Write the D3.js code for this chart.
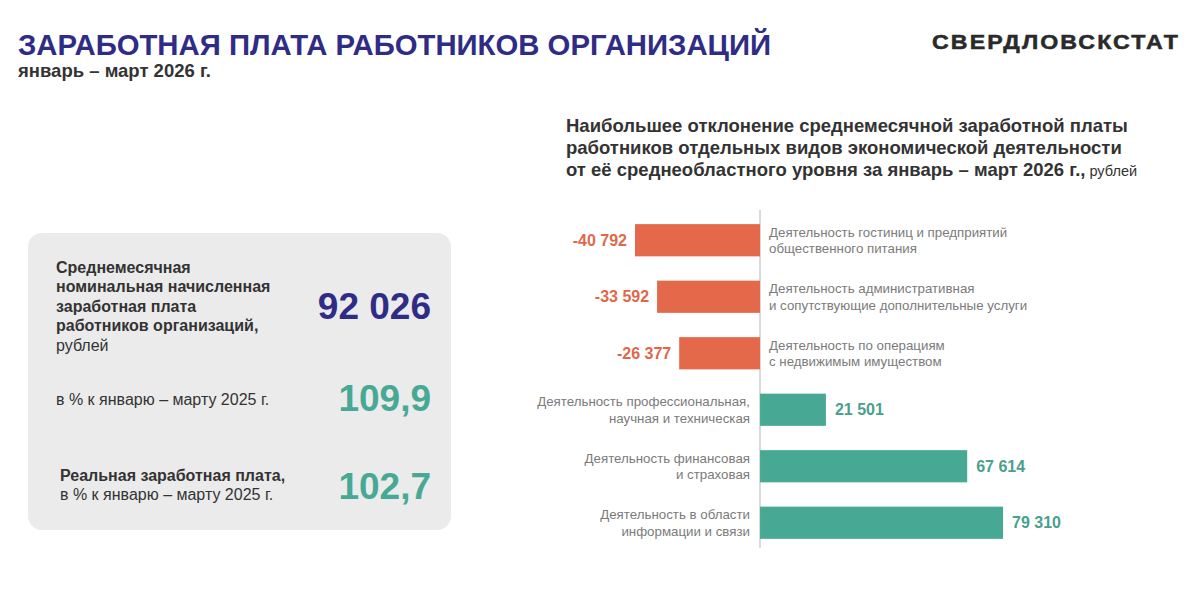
<!DOCTYPE html>
<html>
<head>
<meta charset="utf-8">
<script src="https://cdn.jsdelivr.net/npm/d3@7/dist/d3.min.js"></script>
<style>
  html, body { margin: 0; padding: 0; background: #fff; }
  svg text { font-family: "Liberation Sans", Arial, sans-serif; }
</style>
</head>
<body>
<div id="chart"></div>
<script>
// chart data
var categories = [
  "Деятельность гостиниц и предприятий\nобщественного питания",
  "Деятельность административная\nи сопутствующие дополнительные услуги",
  "Деятельность по операциям\nс недвижимым имуществом",
  "Деятельность профессиональная,\nнаучная и техническая",
  "Деятельность финансовая\nи страховая",
  "Деятельность в области\nинформации и связи"
];
var deviations = [-40792, -33592, -26377, 21501, 67614, 79310];

// summary panel
var kpiLabels = [
  ["Среднемесячная", "номинальная начисленная", "заработная плата", "работников организаций,"],
  [],
  ["Реальная заработная плата,"]
];
var kpiValues = [92026, 109.9, 102.7];

var W = 1196, H = 615;
var blue = '#2f2c86', green = '#47a994', orange = '#e4684a', dark = '#333333', grey = '#7b7b7b';

var ru = d3.formatLocale({decimal: ',', thousands: ' ', grouping: [3], currency: ['', ''], minus: '-'});
var fmtInt = ru.format(','), fmtPct = ru.format('.1f');

var svg = d3.select('#chart').append('svg')
    .attr('width', W)
    .attr('height', H);

// header
svg.append('text')
    .attr('x', 18).attr('y', 55)
    .attr('font-size', 29.3).attr('font-weight', 'bold')
    .attr('fill', blue)
    .text('ЗАРАБОТНАЯ ПЛАТА РАБОТНИКОВ ОРГАНИЗАЦИЙ');

svg.append('text')
    .attr('x', 18).attr('y', 77)
    .attr('font-size', 18.5).attr('font-weight', 'bold')
    .attr('fill', dark)
    .text('январь – март 2026 г.');

// logo text, slightly stretched like the original
svg.append('text')
    .attr('transform', 'translate(932,49) scale(1.16,1)')
    .attr('font-size', 20).attr('font-weight', 'bold')
    .attr('letter-spacing', 1.8)
    .attr('fill', '#2a2a2a')
    .attr('stroke', '#2a2a2a').attr('stroke-width', 0.5)
    .text('СВЕРДЛОВСКСТАТ');

// left panel
svg.append('rect')
    .attr('x', 28).attr('y', 233)
    .attr('width', 423).attr('height', 297)
    .attr('rx', 14)
    .attr('fill', '#ebebeb');

var p1 = svg.append('text').attr('font-size', 16).attr('fill', dark);
kpiLabels[0].forEach(function(s, i) {
  p1.append('tspan').attr('x', 56).attr('y', 273 + i * 19.4)
    .attr('font-weight', 'bold').text(s);
});
p1.append('tspan').attr('x', 56).attr('y', 273 + 4 * 19.4).text('рублей');

svg.append('text')
    .attr('x', 56).attr('y', 405)
    .attr('font-size', 16).attr('fill', dark)
    .text('в % к январю – марту 2025 г.');

var p3 = svg.append('text').attr('font-size', 16).attr('fill', dark);
p3.append('tspan').attr('x', 60).attr('y', 481).attr('font-weight', 'bold').text(kpiLabels[2][0]);
p3.append('tspan').attr('x', 60).attr('y', 500).text('в % к январю – марту 2025 г.');

var kpiY = [319, 411, 499];
var kpiColor = [blue, green, green];
svg.selectAll('text.kpi')
  .data(kpiValues)
  .enter().append('text')
    .attr('class', 'kpi')
    .attr('x', 431)
    .attr('y', function(d, i) { return kpiY[i]; })
    .attr('text-anchor', 'end')
    .attr('font-size', 37).attr('font-weight', 'bold')
    .attr('fill', function(d, i) { return kpiColor[i]; })
    .text(function(d, i) { return i === 0 ? fmtInt(d) : fmtPct(d); });

// chart title
var t = svg.append('text').attr('font-size', 18.5).attr('font-weight', 'bold').attr('fill', dark);
t.append('tspan').attr('x', 566).attr('y', 132).text('Наибольшее отклонение среднемесячной заработной платы');
t.append('tspan').attr('x', 566).attr('y', 154).text('работников отдельных видов экономической деятельности');
t.append('tspan').attr('x', 566).attr('y', 176).text('от её среднеобластного уровня за январь – март 2026 г.,');
t.append('tspan').attr('font-weight', 'normal').attr('font-size', 14.5).text(' рублей');

// scales
var x = d3.scaleLinear()
    .domain([-50000, 90000])
    .range([606.8, 1035.8]);

var y = d3.scaleBand()
    .domain(categories)
    .range([212, 551])
    .paddingInner(0.43)
    .paddingOuter(0.215);

// zero line
svg.append('line')
    .attr('x1', x(0)).attr('x2', x(0))
    .attr('y1', 210).attr('y2', 548)
    .attr('stroke', '#cfcfcf').attr('stroke-width', 1.5);

var rows = svg.append('g').selectAll('g')
  .data(categories.map(function(c, i) { return {cat: c, value: deviations[i]}; }))
  .enter().append('g');

rows.append('rect')
    .attr('x', function(d) { return x(Math.min(0, d.value)); })
    .attr('y', function(d) { return y(d.cat); })
    .attr('width', function(d) { return Math.abs(x(d.value) - x(0)); })
    .attr('height', y.bandwidth())
    .attr('fill', function(d) { return d.value < 0 ? orange : green; });

rows.append('text')
    .attr('x', function(d) { return d.value < 0 ? x(d.value) - 8 : x(d.value) + 9; })
    .attr('y', function(d) { return y(d.cat) + y.bandwidth() / 2; })
    .attr('dy', '0.35em')
    .attr('text-anchor', function(d) { return d.value < 0 ? 'end' : 'start'; })
    .attr('font-size', 16).attr('font-weight', 'bold')
    .attr('fill', function(d) { return d.value < 0 ? '#e0684a' : '#4a9f8d'; })
    .text(function(d) { return fmtInt(d.value); });

var lab = rows.append('text')
    .attr('font-size', 13.3)
    .attr('fill', grey)
    .attr('text-anchor', function(d) { return d.value < 0 ? 'start' : 'end'; });

lab.each(function(d) {
  var lines = d.cat.split('\n');
  var cy = y(d.cat) + y.bandwidth() / 2;
  var tx = d.value < 0 ? x(0) + 9 : x(0) - 10;
  d3.select(this).selectAll('tspan')
    .data(lines)
    .enter().append('tspan')
      .attr('x', tx)
      .attr('y', function(s, i) { return cy + (i - 0.5) * 16.5; })
      .attr('dy', '0.35em')
      .text(function(s) { return s; });
});
</script>
</body>
</html>
